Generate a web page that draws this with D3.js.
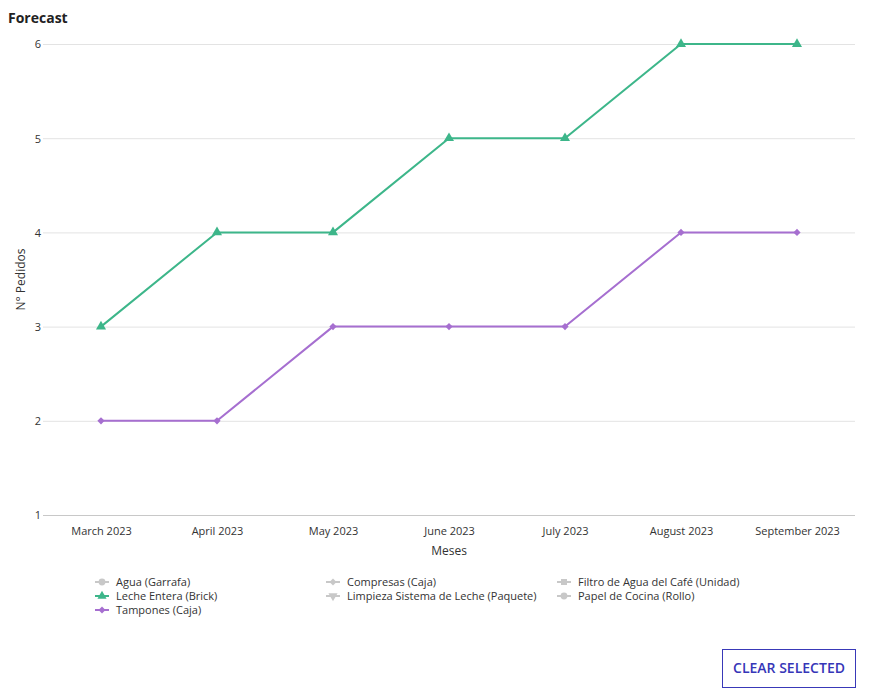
<!DOCTYPE html>
<html>
<head>
<meta charset="utf-8">
<script src="https://cdn.jsdelivr.net/npm/d3@7"></script>
<style>
  body { margin: 0; background: #fff; font-family: "Open Sans", sans-serif; }
  svg text { font-family: "Open Sans", sans-serif; }
</style>
</head>
<body>
<svg id="chart" width="869" height="697"></svg>
<script>
// chart data
const months = ["March 2023", "April 2023", "May 2023", "June 2023", "July 2023", "August 2023", "September 2023"]
const leche_entera = [3, 4, 4, 5, 5, 6, 6]
const tampones = [2, 2, 3, 3, 3, 4, 4]
const y_ticks = [1, 2, 3, 4, 5, 6]
const legend_names = [
  "Agua (Garrafa)", "Compresas (Caja)", "Filtro de Agua del Café (Unidad)",
  "Leche Entera (Brick)", "Limpieza Sistema de Leche (Paquete)", "Papel de Cocina (Rollo)",
  "Tampones (Caja)"
]

const green = "#3db68a", purple = "#a66fd0", grey = "#c8c8c8"
// "diamond" is drawn as a square turned 45 degrees
const symbols = ["circle", "diamond", "square", "triangle", "triangle-down", "circle", "diamond"]
const legend_colors = [grey, grey, grey, green, grey, grey, purple]

function symbol_path(name, size) {
  let type = {circle: d3.symbolCircle, square: d3.symbolSquare, diamond: d3.symbolSquare,
              triangle: d3.symbolTriangle, "triangle-down": d3.symbolTriangle}[name]
  return d3.symbol().type(type).size(size)()
}
function symbol_rot(name) {
  return name == "diamond" ? 45 : name == "triangle-down" ? 180 : 0
}

let margin = {top: 44, right: 14, bottom: 182, left: 43}
let W = 869, H = 697
let svg = d3.select("#chart")

let x = d3.scalePoint().domain(months).range([margin.left, W - margin.right]).padding(0.5)
let y = d3.scaleLinear().domain([1, 6]).range([H - margin.bottom, margin.top])

svg.append("text")
  .attr("x", 8).attr("y", 23)
  .style("font-size", "14px").style("font-weight", "bold").style("fill", "#222")
  .text("Forecast")

// grid + y labels
let y_axis = d3.axisLeft(y).tickValues(y_ticks).tickFormat(d3.format("d"))
  .tickSize(-(W - margin.left - margin.right)).tickPadding(2)
let gy = svg.append("g").attr("transform", `translate(${margin.left},0)`).call(y_axis)
gy.select(".domain").remove()
gy.selectAll(".tick line").attr("stroke", d => d == 1 ? "#c8c8c8" : "#e3e3e3")
gy.selectAll(".tick text").style("font-size", "11px").style("fill", "#333").attr("dy", "0.36em")

let x_axis = d3.axisBottom(x).tickSize(0).tickPadding(12)
let gx = svg.append("g").attr("transform", `translate(0,${y(1)})`).call(x_axis)
gx.select(".domain").remove()
gx.selectAll(".tick text").style("font-size", "11px").style("fill", "#333")

svg.append("text")
  .attr("transform", `translate(25,${(y(1) + y(6)) / 2}) rotate(-90)`)
  .style("text-anchor", "middle").style("font-size", "12px").style("fill", "#333")
  .text("N° Pedidos")

svg.append("text")
  .attr("x", x(months[3])).attr("y", 555)
  .style("text-anchor", "middle").style("font-size", "12px").style("fill", "#333")
  .text("Meses")

// lines
let line = d3.line().x((d, i) => x(months[i])).y(d => y(d))
let series = [
  {values: leche_entera, color: green, symbol: "triangle", size: 44},
  {values: tampones, color: purple, symbol: "diamond", size: 26}
]
series.forEach(s => {
  svg.append("path")
    .attr("d", line(s.values))
    .attr("fill", "none").attr("stroke", s.color).attr("stroke-width", 2)
  svg.append("g").selectAll("path")
    .data(s.values).enter()
    .append("path")
    .attr("transform", (d, i) => `translate(${x(months[i])},${y(d)}) rotate(${symbol_rot(s.symbol)})`)
    .attr("d", symbol_path(s.symbol, s.size))
    .attr("fill", s.color)
})

// legend
let legend_cols = [95, 326, 557]
let legend = svg.append("g")
legend_names.forEach((name, i) => {
  let lx = legend_cols[i % 3], ly = 582 + Math.floor(i / 3) * 14
  let g = legend.append("g").attr("transform", `translate(${lx},${ly})`)
  g.append("line").attr("x1", 0).attr("x2", 14).attr("stroke", legend_colors[i]).attr("stroke-width", 2)
  g.append("path")
    .attr("transform", `translate(7,0) rotate(${symbol_rot(symbols[i])})`)
    .attr("d", symbol_path(symbols[i], symbols[i] == "diamond" ? 24 : 36))
    .attr("fill", legend_colors[i])
  g.append("text").attr("x", 21).attr("dy", "0.35em")
    .style("font-size", "11px").style("fill", "#333")
    .text(name)
})

// button
let btn = svg.append("g").attr("transform", "translate(722,649)")
btn.append("rect").attr("x", 0.5).attr("y", 0.5).attr("width", 133).attr("height", 38)
  .attr("fill", "#fff").attr("stroke", "#3939b8").attr("stroke-width", 1)
btn.append("text").attr("x", 67).attr("y", 19.5).attr("dy", "0.35em")
  .style("text-anchor", "middle").style("font-size", "14px").style("font-weight", 600)
  .style("fill", "#3636b8")
  .text("CLEAR SELECTED")
</script>
</body>
</html>
